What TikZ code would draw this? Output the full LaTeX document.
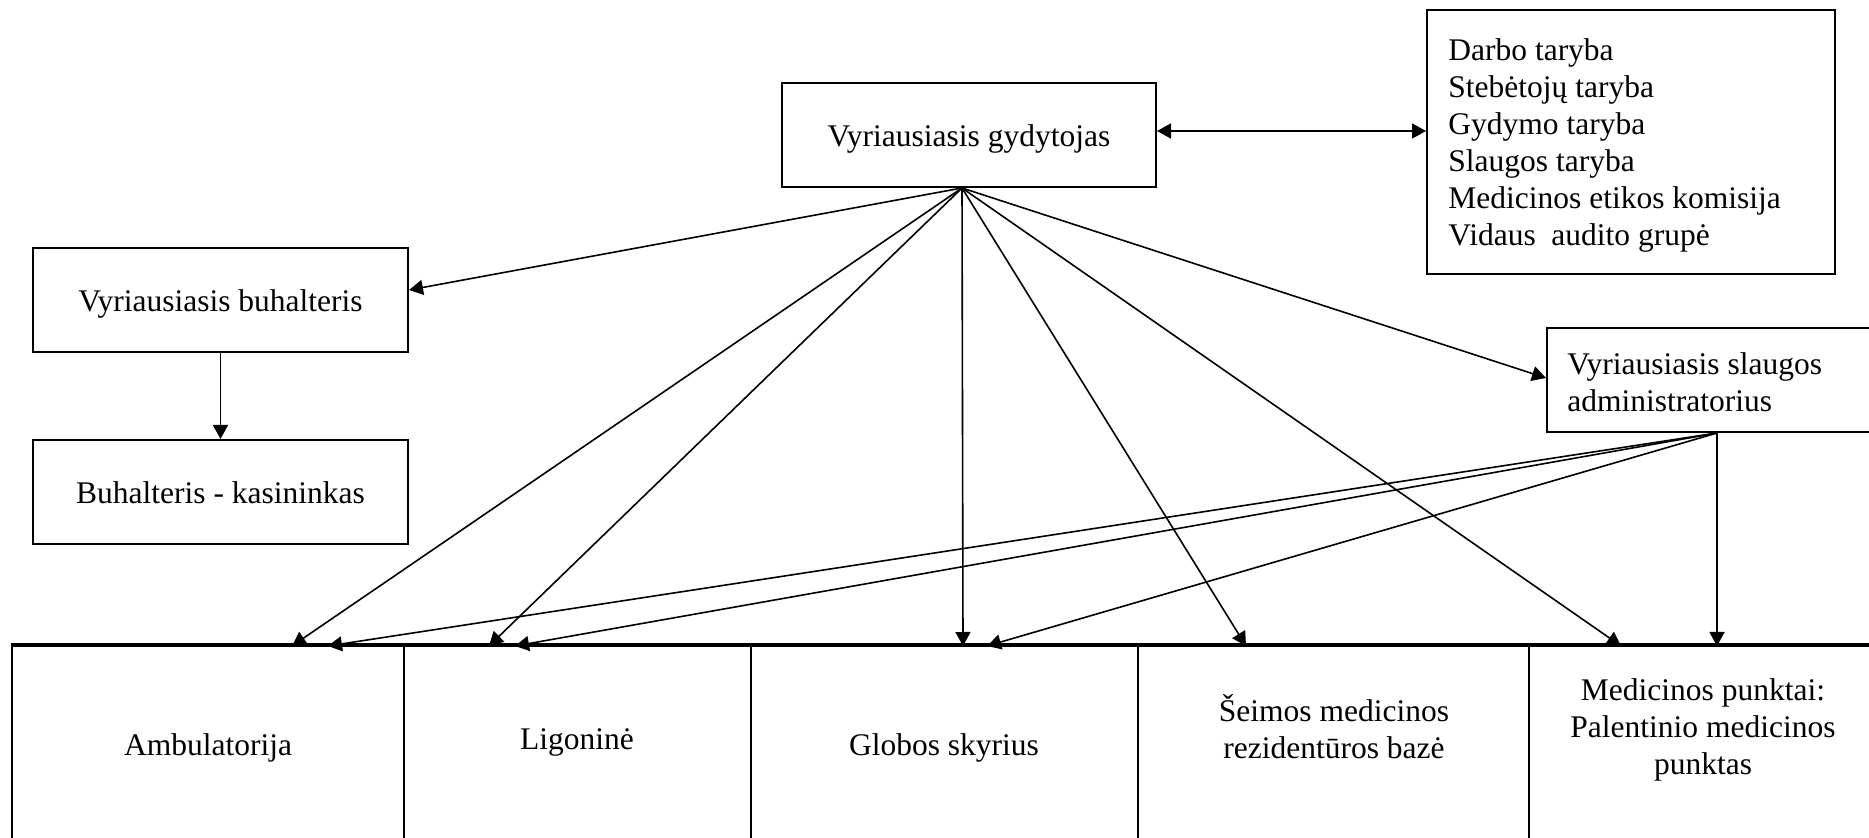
\documentclass[tikz,border=0pt]{standalone}
\usepackage{fontspec}
\setmainfont{Liberation Serif}
\usetikzlibrary{arrows.meta,calc}
\begin{document}
\begin{tikzpicture}[x=0.5pt,y=-0.5pt,
  box/.style={draw,line width=1pt,rectangle,inner sep=0pt},
  one/.style={text height=12pt,text depth=0pt},
  lbl/.style={inner sep=0pt,font=\fontsize{15.75}{18.5}\selectfont},
  arr/.style={line width=0.8pt,-{Triangle[length=7pt,width=7.5pt]}},
  dbl/.style={line width=0.8pt,{Triangle[length=7pt,width=7.5pt]}-{Triangle[length=7pt,width=7.5pt]}},
]
\clip (0,0) rectangle (1869,838);
% top boxes
\node[box,lbl,one,minimum width=187pt,minimum height=52pt] (gyd) at (969,135) {Vyriausiasis gydytojas};
\node[box,minimum width=204pt,minimum height=132pt] (tar) at (1631,142) {};
\node[lbl,align=left,anchor=base west] (tartext) at (1448,246)
  {Darbo taryba\\Stebėtojų taryba\\Gydymo taryba\\Slaugos taryba\\Medicinos etikos komisija\\Vidaus\ \ audito grupė};
\node[box,lbl,one,minimum width=187.5pt,minimum height=52pt] (buh) at (220.5,300) {Vyriausiasis buhalteris};
\node[box,lbl,one,minimum width=187.5pt,minimum height=52pt] (kas) at (220.5,492) {Buhalteris - kasininkas};
\node[box,minimum width=170pt,minimum height=52pt] (sla) at (1717,380) {};
\node[lbl,align=left,anchor=base west] (slatext) at (1567,412) {Vyriausiasis slaugos\\administratorius};
% bottom row
\node[box,minimum width=196pt,minimum height=117pt] (amb) at (208,763) {};
\node[box,minimum width=173.5pt,minimum height=117pt] (lig) at (577.5,763) {};
\node[box,minimum width=193.5pt,minimum height=117pt] (glo) at (944.5,763) {};
\node[box,minimum width=195.5pt,minimum height=117pt] (sei) at (1333.5,763) {};
\node[box,minimum width=185.5pt,minimum height=117pt] (med) at (1714.5,763) {};
\draw[line width=1.5pt] (amb.north west) -- (med.north east);
\node[lbl,anchor=base] (ambtext) at (208,756) {Ambulatorija};
\node[lbl,anchor=base] (ligtext) at (577,750) {Ligoninė};
\node[lbl,anchor=base] (glotext) at (944,756) {Globos skyrius};
\node[lbl,align=center,anchor=base] (seitext) at (1334,759) {Šeimos medicinos\\rezidentūros bazė};
\node[lbl,align=center,anchor=base] (medtext) at (1703,775) {Medicinos punktai:\\Palentinio medicinos\\punktas};
% connection points
\coordinate (gs) at ($(gyd.south)+(-7,0)$);
\coordinate (a1) at (292,646);
\coordinate (a2) at (328,646);
\coordinate (l1) at (489,646);
\coordinate (l2) at (515,646);
\coordinate (g1) at (963,646);
\coordinate (g2) at (987,646);
\coordinate (s1) at (1246,646);
\coordinate (m1) at (1621,646);
\coordinate (m2) at (1717,646);
% connectors
\draw[dbl] ([yshift=2pt]gyd.east) -- ([yshift=2pt]gyd.east -| tar.west);
\draw[arr] (gs) -- ([yshift=5pt]buh.east);
\draw[arr] (buh.south) -- (kas.north);
\draw[arr] (gs) -- ([yshift=1pt]sla.west);
\draw[arr] (gs) -- (a1);
\draw[arr] (gs) -- (l1);
\draw[arr] (gs) -- (g1);
\draw[arr] (gs) -- (s1);
\draw[arr] (gs) -- (m1);
\draw[arr] (sla.south) -- (a2);
\draw[arr] (sla.south) -- (l2);
\draw[arr] (sla.south) -- (g2);
\draw[arr] (sla.south) -- (m2);
\end{tikzpicture}
\end{document}
